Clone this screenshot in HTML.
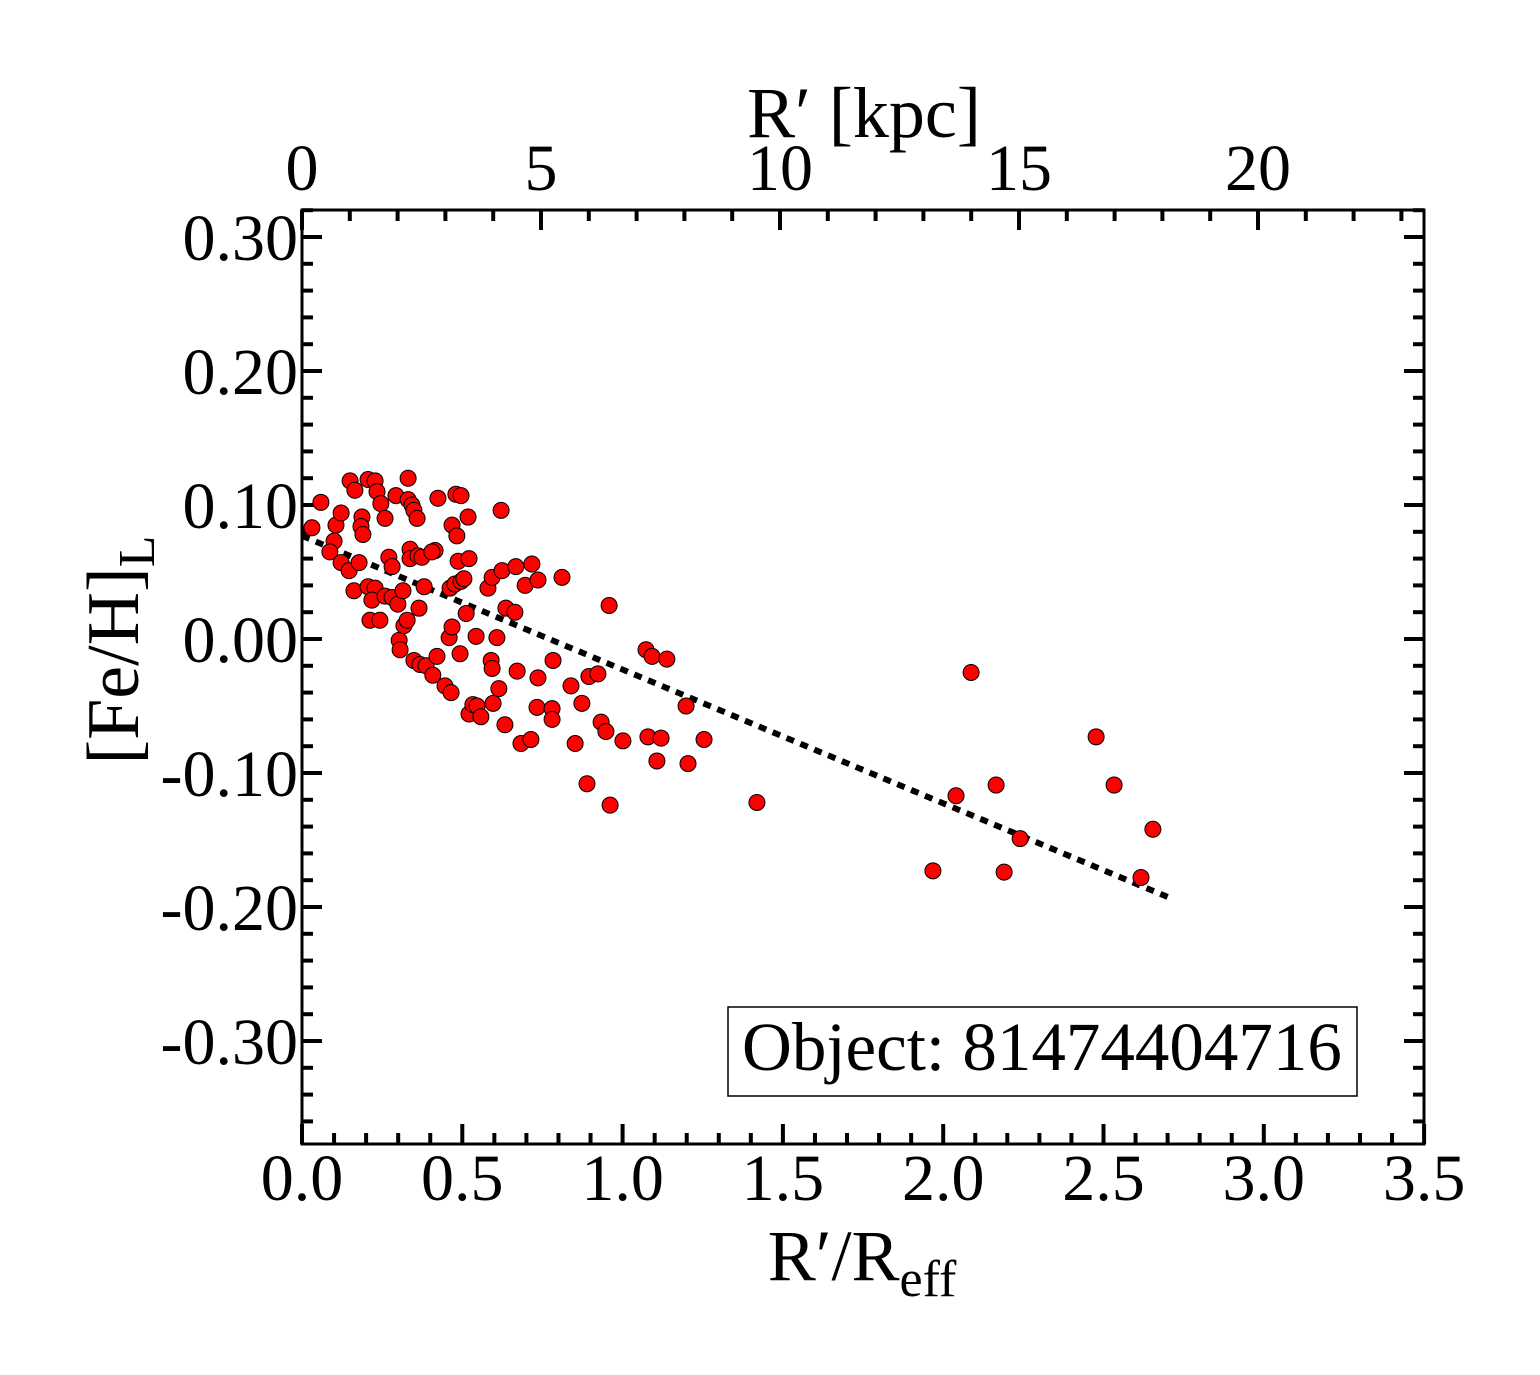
<!DOCTYPE html>
<html><head><meta charset="utf-8"><style>
html,body{margin:0;padding:0;background:#fff;}
svg{display:block;font-family:"Liberation Serif",serif;}
</style></head><body>
<svg id="chart" width="1540" height="1375" viewBox="0 0 1540 1375"></svg>
<script>
const xVals=[0.031,0.059,0.106,0.100,0.122,0.087,0.122,0.147,0.150,0.165,0.162,0.187,0.184,0.190,0.178,0.206,0.228,0.234,0.246,0.259,0.206,0.228,0.218,0.212,0.243,0.259,0.271,0.281,0.293,0.281,0.299,0.303,0.306,0.318,0.315,0.328,0.331,0.331,0.343,0.349,0.359,0.337,0.337,0.362,0.374,0.365,0.381,0.349,0.368,0.387,0.408,0.421,0.415,0.405,0.424,0.446,0.459,0.465,0.462,0.477,0.468,0.468,0.483,0.480,0.496,0.487,0.493,0.496,0.505,0.512,0.521,0.518,0.521,0.533,0.546,0.543,0.558,0.580,0.590,0.593,0.593,0.596,0.608,0.614,0.621,0.624,0.636,0.633,0.664,0.667,0.671,0.683,0.696,0.714,0.717,0.736,0.733,0.736,0.783,0.780,0.780,0.811,0.839,0.852,0.873,0.889,0.895,0.923,0.933,0.948,0.958,0.961,1.001,1.073,1.092,1.079,1.138,1.107,1.120,1.198,1.204,1.254,1.419,1.968,2.040,2.087,2.165,2.190,2.240,2.477,2.533,2.617,2.654];
const yVals=[0.083,0.102,0.085,0.073,0.094,0.065,0.057,0.051,0.118,0.111,0.036,0.091,0.084,0.078,0.057,0.119,0.118,0.110,0.101,0.090,0.039,0.038,0.029,0.014,0.014,0.032,0.061,0.054,0.107,0.031,0.026,-0.001,-0.008,0.010,0.036,0.014,0.120,0.104,0.100,0.096,0.090,0.067,0.060,0.062,0.061,0.023,0.039,-0.016,-0.019,-0.020,-0.027,-0.013,0.066,0.065,0.105,-0.035,0.001,-0.040,0.038,0.041,0.009,0.085,0.077,0.108,0.107,0.058,-0.011,0.043,0.045,0.019,0.060,0.091,-0.056,-0.049,-0.050,0.002,-0.058,0.038,-0.016,0.046,-0.022,-0.048,0.001,-0.037,0.096,0.051,0.023,-0.064,0.020,0.054,-0.024,-0.078,0.040,-0.075,0.056,0.044,-0.051,-0.029,-0.016,-0.052,-0.060,0.046,-0.035,-0.078,-0.048,-0.108,-0.028,-0.026,-0.062,-0.069,0.025,-0.124,-0.076,-0.008,-0.013,-0.073,-0.015,-0.091,-0.074,-0.050,-0.093,-0.075,-0.122,-0.173,-0.117,-0.025,-0.109,-0.174,-0.149,-0.073,-0.109,-0.178,-0.142];
const fitX=[0,2.7];
const fitY=[0.077,-0.1925];
const xTicks=[0,0.5,1,1.5,2,2.5,3,3.5];
const xTickLabels=["0.0","0.5","1.0","1.5","2.0","2.5","3.0","3.5"];
const yTicks=[0.3,0.2,0.1,0,-0.1,-0.2,-0.3];
const yTickLabels=["0.30","0.20","0.10","0.00","-0.10","-0.20","-0.30"];
const kpcTicks=[0,5,10,15,20];
const kpcTickLabels=["0","5","10","15","20"];

const L=302,R=1424,T=210,B=1144;
const X=v=>L+v*320.6;
const Y=v=>639-v*1340;
const K=v=>L+v*47.8;
const svg=document.getElementById('chart');
const NS='http://www.w3.org/2000/svg';
function mk(tag,attrs,parent){const e=document.createElementNS(NS,tag);for(const k in attrs)e.setAttribute(k,attrs[k]);(parent||svg).appendChild(e);return e;}

const tg=mk('g',{stroke:'#000','stroke-width':4});


for(let i=0;i<=35;i++){const v=i/10;const x=X(v);const len=i%5===0?20:11;
  mk('line',{x1:x,y1:B,x2:x,y2:B-len},tg);}
for(let i=0;i<=23;i++){const x=K(i);if(x>R)break;const len=i%5===0?20:11;
  mk('line',{x1:x,y1:T,x2:x,y2:T+len},tg);}
for(let i=-18;i<=16;i++){const v=i/50;const y=Y(v);if(y<T||y>B)continue;const len=(i%5===0)?20:11;
  mk('line',{x1:L,y1:y,x2:L+len,y2:y},tg);mk('line',{x1:R,y1:y,x2:R-len,y2:y},tg);}

const frame=mk('rect',{x:L,y:T,width:R-L,height:B-T,fill:'none',stroke:'#000','stroke-width':3});



xTicks.forEach((v,i)=>{const t=mk('text',{x:X(v),y:1200,'font-size':66,'text-anchor':'middle'});t.textContent=xTickLabels[i];

});
kpcTicks.forEach((v,i)=>{const t=mk('text',{x:K(v),y:190,'font-size':66,'text-anchor':'middle'});t.textContent=kpcTickLabels[i];

});
yTicks.forEach((v,i)=>{const t=mk('text',{x:298,y:Y(v)+23,'font-size':66,'text-anchor':'end'});t.textContent=yTickLabels[i];

});

const fl=mk('line',{x1:X(fitX[0]),y1:Y(fitY[0]),x2:X(fitX[1]),y2:Y(fitY[1]),stroke:'#000','stroke-width':6,'stroke-dasharray':'8 7'});



xVals.forEach((v,i)=>{const c=mk('circle',{cx:X(v),cy:Y(yVals[i]),r:8,fill:'#ff0000',stroke:'#000','stroke-width':1});

});
</script>
<svg style="position:absolute;left:0;top:0" width="1540" height="1375">
<text x="864" y="137" font-size="72" text-anchor="middle" font-family="Liberation Serif,serif">R′ [kpc]</text>
<text x="862" y="1280" font-size="72" text-anchor="middle" font-family="Liberation Serif,serif">R′/R<tspan font-size="52" dy="16">eff</tspan></text>
<text transform="translate(138,650) rotate(-90)" font-size="74" text-anchor="middle" font-family="Liberation Serif,serif">[Fe/H]<tspan font-size="52" dy="16">L</tspan></text>
<rect x="728" y="1007" width="629" height="89" fill="#fff" stroke="#000" stroke-width="1.5"/>
<text x="742" y="1070" font-size="69" font-family="Liberation Serif,serif">Object: 81474404716</text>
</svg>
</body></html>
